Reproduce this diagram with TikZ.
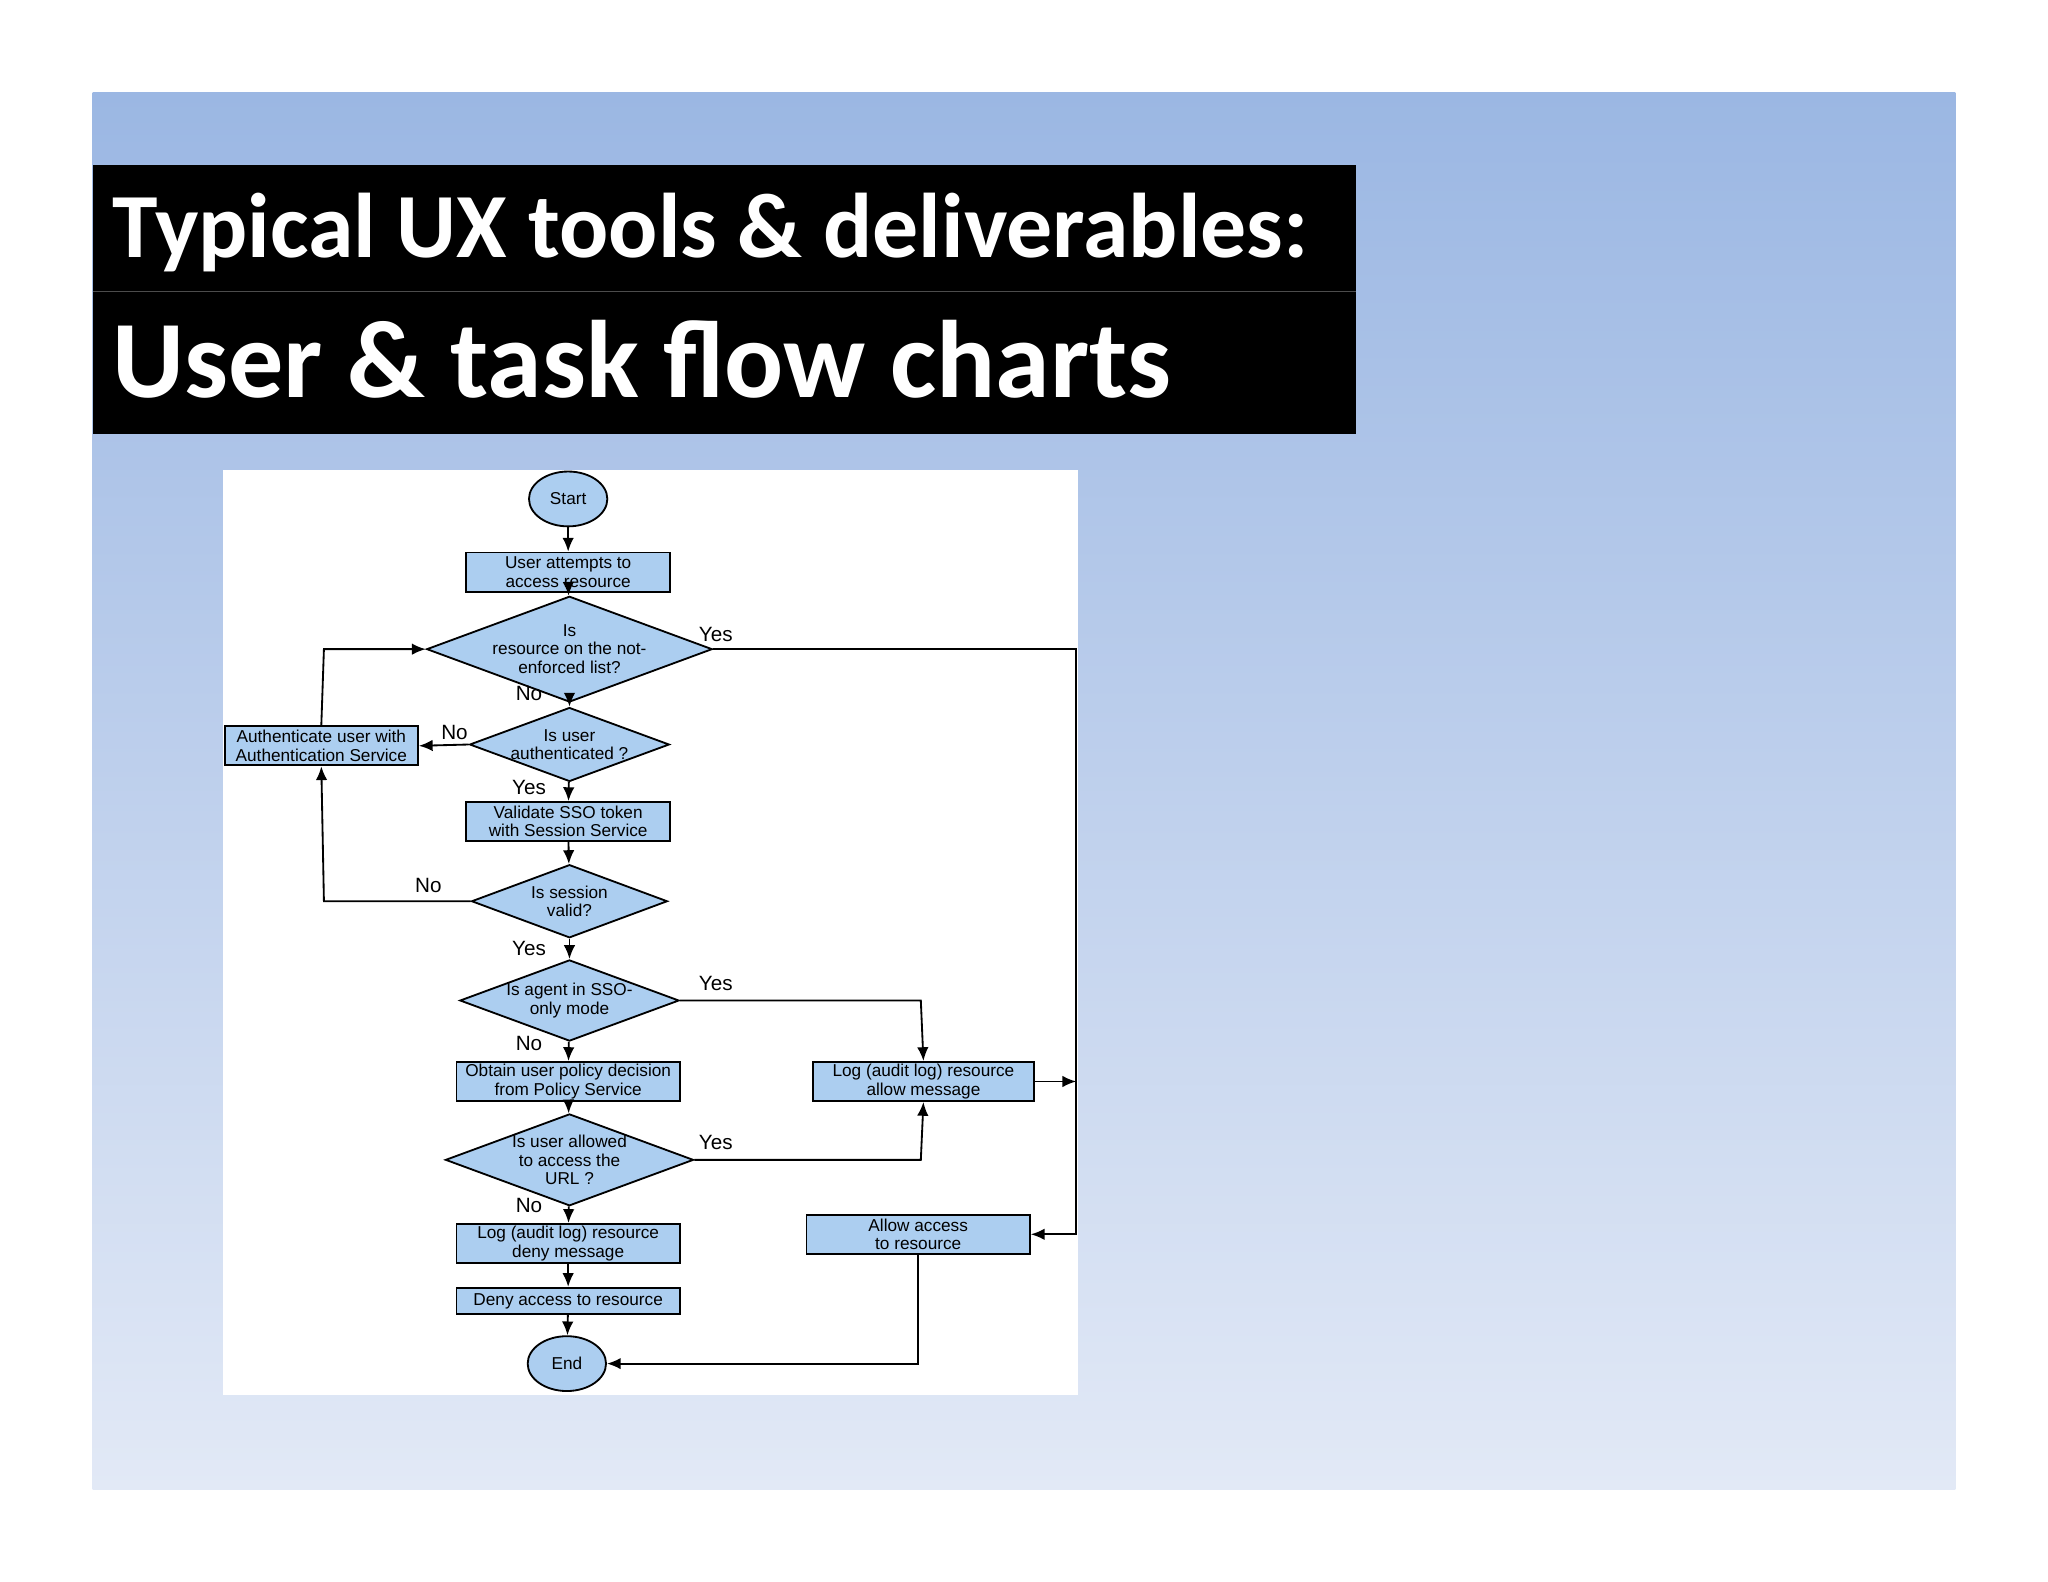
\documentclass[tikz,border=0pt]{standalone}
\usepackage{fontspec}
\setmainfont{Liberation Sans}
\newfontfamily\titlefont{Carlito}
\usetikzlibrary{shapes.geometric,arrows.meta}
\definecolor{bgtop}{RGB}{155,183,227}
\definecolor{bgbot}{RGB}{226,233,246}
\definecolor{boxfill}{RGB}{172,206,240}
\tikzset{
  fbox/.style={draw, thick, fill=boxfill, minimum height=0.6cm, align=center, inner sep=1pt, font=\fontsize{7.5}{8}\selectfont},
  fdia/.style={draw, thick, diamond, aspect=2.7, fill=boxfill, align=center, inner sep=0pt, font=\fontsize{7.5}{8}\selectfont},
  fell/.style={draw, thick, ellipse, fill=boxfill, minimum width=1.2cm, minimum height=0.84cm, inner sep=0pt, font=\fontsize{7.5}{8}\selectfont},
  conn/.style={thick, -{Latex[length=6pt,width=5pt]}},
  lbl/.style={font=\fontsize{9}{10}\selectfont}
}
\begin{document}
\begin{tikzpicture}[x=0.02cm,y=-0.02cm]
\useasboundingbox (0,0) rectangle (1568,1211);
\fill[white] (0,0) rectangle (1568,1211);
\shade[top color=bgtop, bottom color=bgbot] (71,71) rectangle (1497,1140);
\fill[black] (71,126) rectangle (1038,332);
\draw[gray!60!black, line width=0.4pt] (71,223) -- (1038,223);
\node[anchor=west, text=white, font=\titlefont\bfseries\fontsize{40}{44}\selectfont] (t1) at (80,178) {Typical UX tools \& deliverables:};
\node[anchor=west, text=white, font=\titlefont\bfseries\fontsize{48}{52}\selectfont] (t2) at (80,275) {User \& task flow charts};
\fill[white] (171,360) rectangle (825,1068);

\node[fell] (start) at (435,382) {Start};
\node[fbox, minimum width=3.12cm] (b1) at (435,438) {User attempts to\\access resource};
\node[fdia, minimum width=3.0cm, minimum height=1.08cm] (d1) at (436,497) {Is\\resource on the not-\\enforced list?};
\node[fdia, minimum width=3.0cm, minimum height=1.12cm] (d2) at (436,570) {Is user\\authenticated ?};
\node[fbox, minimum width=2.96cm] (auth) at (246,571) {Authenticate user with\\Authentication Service};
\node[fbox, minimum width=3.12cm] (b2) at (435,629) {Validate SSO token\\with Session Service};
\node[fdia, minimum width=3.0cm, minimum height=1.12cm] (d3) at (436,690) {Is session\\valid?};
\node[fdia, minimum width=3.2cm, minimum height=1.2cm] (d4) at (436,766) {Is agent in SSO-\\only mode};
\node[fbox, minimum width=3.42cm] (b3) at (435,828) {Obtain user policy decision\\from Policy Service};
\node[fbox, minimum width=3.38cm] (la) at (707,828) {Log (audit log) resource\\allow message};
\node[fdia, minimum width=3.2cm, minimum height=1.2cm] (d5) at (436,888) {Is user allowed\\to access the\\URL ?};
\node[fbox, minimum width=3.42cm] (ld) at (435,952) {Log (audit log) resource\\deny message};
\node[fbox, minimum width=3.42cm] (al) at (703,945) {Allow access\\to resource};
\node[fbox, minimum width=3.42cm, minimum height=0.4cm] (dn) at (435,996) {Deny access to resource};
\node[fell] (end) at (434,1044) {End};

\coordinate (cR) at (824,497);
\coordinate (cRL) at (824,828);
\coordinate (cRA) at (824,945);

\draw[conn] (start) -- (b1);
\draw[conn] (b1) -- (d1);
\draw[conn] (d1) -- (d2);
\draw[conn] (d2.west) -- (auth.east);
\draw[conn] (d2) -- (b2);
\draw[conn] (b2) -- (d3);
\draw[conn] (d3.west) -- (248,690) -- (auth.south);
\draw[conn] (auth.north) -- (248,497) -- (d1.west);
\draw[conn] (d3) -- (d4);
\draw[conn] (d4.east) -- (705,766) -- (la.north);
\draw[conn] (d4) -- (b3);
\draw[conn] (b3) -- (d5);
\draw[conn] (d5.east) -- (705,888) -- (la.south);
\draw[conn] (d5) -- (ld);
\draw[conn] (ld) -- (dn);
\draw[conn] (dn) -- (end);
\draw[conn] (d1.east) -- (cR) -- (cRA) -- (al.east);
\draw[conn] (la.east) -- (cRL);
\draw[conn] (al.south) -- (703,1044) -- (end.east);

\node[lbl] (y1) at (548,486) {Yes};
\node[lbl] (n1) at (405,531) {No};
\node[lbl] (n2) at (348,561) {No};
\node[lbl] (y2) at (405,603) {Yes};
\node[lbl] (n3) at (328,678) {No};
\node[lbl] (y3) at (405,726) {Yes};
\node[lbl] (y4) at (548,753) {Yes};
\node[lbl] (n4) at (405,799) {No};
\node[lbl] (y5) at (548,875) {Yes};
\node[lbl] (n5) at (405,923) {No};
\end{tikzpicture}
\end{document}
